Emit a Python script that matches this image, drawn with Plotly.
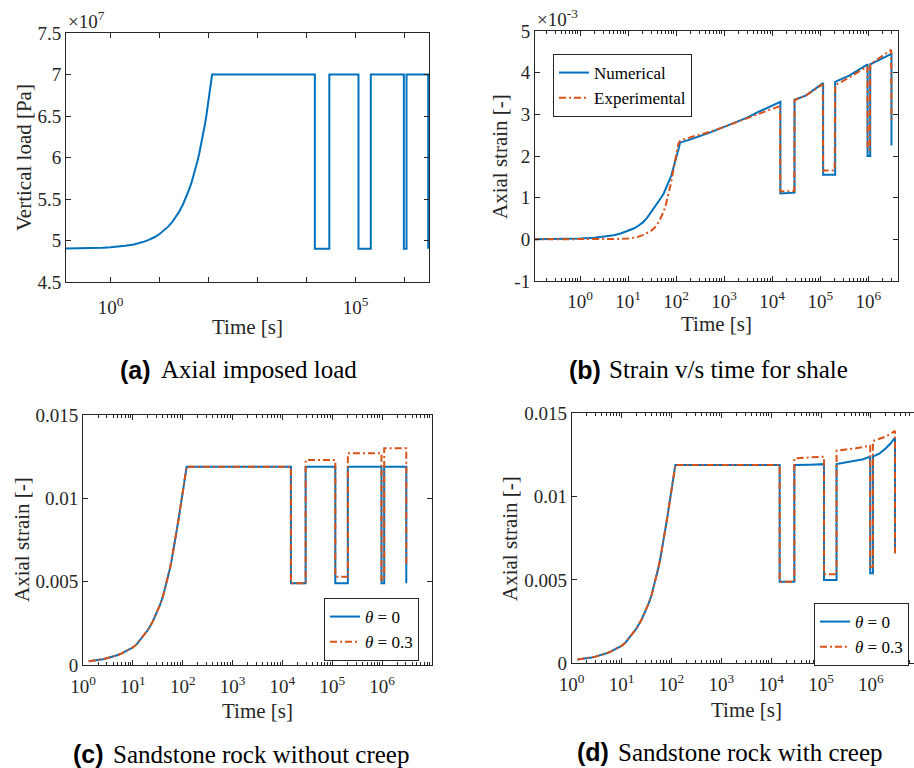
import plotly.graph_objects as go

W, H = 914, 768
BLUE = '#0072BD'
ORANGE = '#D95319'
AX = '#262626'
SERIF = 'Liberation Serif'
SANS = 'Liberation Sans'

# ---------------- data ----------------
# (a) axial imposed load [Pa]
load_ramp_t = [0.1, 0.2, 0.3, 0.5, 0.7, 1, 1.5, 2, 3, 4, 5, 6, 7, 8, 10, 12, 15, 18, 20, 25,
               30, 35, 40, 45, 50, 55, 60, 65, 70, 75, 80, 85, 90, 95, 100, 105, 110, 115, 118]
load_ramp_pa = [4.902e7, 4.904e7, 4.905e7, 4.909e7, 4.912e7, 4.918e7, 4.927e7, 4.936e7,
                4.953e7, 4.971e7, 4.989e7, 5.007e7, 5.025e7, 5.042e7, 5.078e7, 5.114e7,
                5.167e7, 5.220e7, 5.256e7, 5.345e7, 5.434e7, 5.523e7, 5.612e7, 5.700e7,
                5.790e7, 5.880e7, 5.968e7, 6.057e7, 6.146e7, 6.235e7, 6.324e7, 6.410e7,
                6.500e7, 6.590e7, 6.680e7, 6.770e7, 6.860e7, 6.950e7, 7.000e7]
load_step_t = [1.48e4, 1.48e4, 2.92e4, 2.92e4, 1.15e5, 1.15e5, 2.05e5, 2.05e5,
               9.7e5, 9.7e5, 1.1e6, 1.1e6, 3.05e6, 3.05e6]
load_step_pa = [7.00e7, 4.90e7, 4.90e7, 7.00e7, 7.00e7, 4.90e7, 4.90e7, 7.00e7,
                7.00e7, 4.90e7, 4.90e7, 7.00e7, 7.00e7, 4.90e7]

# (b) shale strain
num_t = [0.1, 0.3, 1, 2, 3, 5, 7, 10, 13, 16, 20, 25, 30, 35, 40, 45, 50, 55, 60, 65, 70,
         75, 80, 85, 90, 95, 100, 105, 110, 115, 120,
         200, 500, 1000, 3000, 5000, 1.48e4, 1.48e4, 2.92e4, 2.92e4, 5e4, 1.15e5,
         1.15e5, 2.05e5, 2.05e5, 4e5, 9.7e5, 9.7e5, 1.1e6, 1.1e6, 2e6, 3.05e6, 3.05e6]
num_eps = [0.002e-3, 0.006e-3, 0.02e-3, 0.04e-3, 0.06e-3, 0.10e-3, 0.14e-3, 0.20e-3,
           0.26e-3, 0.32e-3, 0.40e-3, 0.52e-3, 0.65e-3, 0.74e-3, 0.83e-3, 0.92e-3, 1.02e-3,
           1.10e-3, 1.19e-3, 1.28e-3, 1.38e-3, 1.46e-3, 1.55e-3, 1.65e-3, 1.74e-3, 1.84e-3,
           1.94e-3, 2.04e-3, 2.13e-3, 2.22e-3, 2.32e-3,
           2.40e-3, 2.56e-3, 2.70e-3, 2.92e-3, 3.05e-3, 3.30e-3, 1.10e-3, 1.12e-3,
           3.35e-3, 3.45e-3, 3.75e-3, 1.55e-3, 1.55e-3, 3.78e-3, 3.93e-3, 4.20e-3, 2.00e-3,
           2.00e-3, 4.20e-3, 4.35e-3, 4.45e-3, 2.25e-3]
exp_t = [0.1, 1, 3, 5, 7, 10, 15, 20, 25, 30, 35, 40, 45, 50, 55, 60, 65, 70, 75, 80, 85,
         90, 95, 100, 105, 110, 118, 130, 200, 500, 1000,
         3000, 1.46e4, 1.48e4, 2.88e4, 2.92e4, 5e4, 1.13e5, 1.15e5, 2.0e5, 2.05e5, 4e5,
         9.6e5, 9.7e5, 1.08e6, 1.1e6, 2e6, 3.0e6, 3.05e6]
exp_eps = [0.0, 0.0, 0.0, 0.005e-3, 0.01e-3, 0.02e-3, 0.05e-3, 0.10e-3, 0.15e-3, 0.20e-3,
           0.27e-3, 0.35e-3, 0.45e-3, 0.55e-3, 0.67e-3, 0.80e-3, 0.95e-3, 1.10e-3, 1.26e-3,
           1.42e-3, 1.58e-3, 1.75e-3, 1.92e-3, 2.08e-3, 2.20e-3, 2.28e-3, 2.35e-3, 2.38e-3,
           2.45e-3, 2.58e-3, 2.70e-3,
           2.90e-3, 3.20e-3, 1.15e-3, 1.16e-3, 3.34e-3, 3.45e-3, 3.72e-3, 1.65e-3, 1.65e-3,
           3.70e-3, 3.88e-3, 4.15e-3, 2.15e-3, 2.15e-3, 4.20e-3, 4.40e-3, 4.55e-3, 2.86e-3]

# (c), (d) sandstone: common loading ramp
cd_ramp_t = [1.3, 1.6, 2, 2.5, 3, 4, 5, 6, 7, 8, 10, 12, 15, 18, 20, 25, 30, 35, 40, 45,
             50, 55, 60, 65, 70, 75, 80, 85, 90, 95, 100, 105, 110, 115, 120]
cd_ramp_eps = [0.00023, 0.00026, 0.0003, 0.00035, 0.0004, 0.0005, 0.0006, 0.0007, 0.0008,
               0.0009, 0.00105, 0.00125, 0.0016, 0.0019, 0.0021, 0.0026, 0.0031, 0.0036,
               0.0041, 0.00465, 0.0052, 0.00575, 0.0063, 0.00685, 0.0074, 0.00795, 0.0085,
               0.0090, 0.0095, 0.0100, 0.0105, 0.0109, 0.0113, 0.0116, 0.0119]

# (c) without creep: step part
c_step_t = [1.48e4, 1.48e4, 2.92e4, 2.92e4, 1.15e5, 1.15e5, 2.05e5, 2.05e5,
            9.7e5, 9.7e5, 1.1e6, 1.1e6, 3.05e6, 3.05e6]
c_th0 = [0.0119, 0.0049, 0.0049, 0.0119, 0.0119, 0.0049, 0.0049, 0.0119,
         0.0119, 0.0049, 0.0049, 0.0119, 0.0119, 0.0049]
c_th03 = [0.0119, 0.0049, 0.0049, 0.0123, 0.0123, 0.0053, 0.0053, 0.0127,
          0.0127, 0.0051, 0.0051, 0.0130, 0.0130, 0.0060]

# (d) with creep: step part
d0_step_t = [1.48e4, 1.48e4, 2.92e4, 2.92e4, 6e4, 1.15e5, 1.15e5, 2.05e5, 2.05e5, 4e5, 7e5,
             9.7e5, 9.7e5, 1.1e6, 1.1e6, 1.5e6, 2e6, 2.5e6, 3.05e6, 3.05e6]
d_th0 = [0.0119, 0.0049, 0.0049, 0.0119, 0.01192, 0.01195, 0.0050, 0.0050, 0.01196, 0.0121,
         0.01224, 0.0124, 0.0054, 0.0054, 0.0124, 0.0126, 0.0129, 0.0132, 0.01355, 0.0066]
d3_step_t = [1.48e4, 1.48e4, 2.92e4, 2.92e4, 6e4, 1.15e5, 1.15e5, 2.05e5, 2.05e5, 5e5,
             9.7e5, 9.7e5, 1.1e6, 1.1e6, 2e6, 3.05e6, 3.05e6]
d_th03 = [0.0119, 0.0049, 0.0049, 0.0123, 0.01235, 0.0124, 0.00534, 0.00534, 0.01276, 0.0129,
          0.01306, 0.0058, 0.0058, 0.01334, 0.0136, 0.01394, 0.0066]

decade_vals = [1, 10, 100, 1e3, 1e4, 1e5, 1e6]
decade_text = ['10<sup>%d</sup>' % k for k in range(7)]
a_xtext = ['10<sup>0</sup>', '', '', '', '', '10<sup>5</sup>', '']
a_yvals = [4.5e7, 5e7, 5.5e7, 6e7, 6.5e7, 7e7, 7.5e7]
a_ytext = ['4.5', '5', '5.5', '6', '6.5', '7', '7.5']
b_yvals = [-1e-3, 0, 1e-3, 2e-3, 3e-3, 4e-3, 5e-3]
b_ytext = ['-1', '0', '1', '2', '3', '4', '5']
cd_yvals = [0, 0.005, 0.01, 0.015]
cd_ytext = ['0', '0.005', '0.01', '0.015']
minor_vals = [m * 10.0 ** k for k in range(-1, 7) for m in range(2, 10)]

DASHDOT = '7px,3px,2px,3px'


def fx(p):
    return p / W


def fy(p):
    return 1 - p / H


fig = go.Figure()

fig.add_trace(go.Scatter(x=load_ramp_t + load_step_t, y=load_ramp_pa + load_step_pa,
                         mode='lines', line=dict(color=BLUE, width=2),
                         xaxis='x', yaxis='y', showlegend=False))
fig.add_trace(go.Scatter(x=num_t, y=num_eps, mode='lines', name='Numerical',
                         line=dict(color=BLUE, width=2), xaxis='x2', yaxis='y2', legend='legend'))
fig.add_trace(go.Scatter(x=exp_t, y=exp_eps, mode='lines', name='Experimental',
                         line=dict(color=ORANGE, width=2, dash=DASHDOT), xaxis='x2', yaxis='y2',
                         legend='legend'))
fig.add_trace(go.Scatter(x=cd_ramp_t + c_step_t, y=cd_ramp_eps + c_th0, mode='lines',
                         name='<i>θ</i> = 0', line=dict(color=BLUE, width=2),
                         xaxis='x3', yaxis='y3', legend='legend2'))
fig.add_trace(go.Scatter(x=cd_ramp_t + c_step_t, y=cd_ramp_eps + c_th03, mode='lines',
                         name='<i>θ</i> = 0.3', line=dict(color=ORANGE, width=2, dash=DASHDOT),
                         xaxis='x3', yaxis='y3', legend='legend2'))
fig.add_trace(go.Scatter(x=cd_ramp_t + d0_step_t, y=cd_ramp_eps + d_th0, mode='lines',
                         name='<i>θ</i> = 0', line=dict(color=BLUE, width=2),
                         xaxis='x4', yaxis='y4', legend='legend3'))
fig.add_trace(go.Scatter(x=cd_ramp_t + d3_step_t, y=cd_ramp_eps + d_th03, mode='lines',
                         name='<i>θ</i> = 0.3', line=dict(color=ORANGE, width=2, dash=DASHDOT),
                         xaxis='x4', yaxis='y4', legend='legend3'))

tickfont = dict(family=SERIF, size=19, color=AX)
base = dict(showline=True, linecolor=AX, linewidth=1, mirror='ticks', ticks='inside',
            ticklen=5, tickwidth=1, tickcolor=AX, showgrid=False, zeroline=False,
            tickfont=tickfont, tickmode='array')
minor = dict(ticks='inside', ticklen=3, tickwidth=1, tickcolor=AX, tickmode='array',
             tickvals=minor_vals, showgrid=False)

legend_style = dict(bgcolor='white', bordercolor=AX, borderwidth=1,
                    font=dict(family=SERIF, size=17, color='black'),
                    xanchor='left', yanchor='top', tracegroupgap=0)

fig.update_layout(
    width=W, height=H, plot_bgcolor='white', paper_bgcolor='white',
    margin=dict(l=0, r=0, t=0, b=0, autoexpand=False),
    xaxis=dict(base, type='log', domain=[fx(66), fx(429)], range=[-0.91, 6.5],
               tickvals=decade_vals, ticktext=a_xtext, anchor='y', ticklabelstandoff=8),
    yaxis=dict(base, domain=[fy(282), fy(33)], range=[4.5e7, 7.5e7],
               tickvals=a_yvals, ticktext=a_ytext, anchor='x'),
    xaxis2=dict(base, type='log', domain=[fx(535), fx(898)], range=[-0.94, 6.62],
                tickvals=decade_vals, ticktext=decade_text, anchor='y2', minor=minor,
                ticklabelstandoff=3),
    yaxis2=dict(base, domain=[fy(281), fy(31)], range=[-1e-3, 5e-3],
                tickvals=b_yvals, ticktext=b_ytext, anchor='x2'),
    xaxis3=dict(base, type='log', domain=[fx(83), fx(432)], range=[0, 7],
                tickvals=decade_vals, ticktext=decade_text, anchor='y3', minor=minor,
                ticklabelstandoff=4),
    yaxis3=dict(base, domain=[fy(665), fy(415)], range=[0, 0.015],
                tickvals=cd_yvals, ticktext=cd_ytext, anchor='x3'),
    xaxis4=dict(base, type='log', domain=[fx(571.7), 1.0], range=[0, 6.865],
                tickvals=decade_vals, ticktext=decade_text, anchor='y4', minor=minor,
                ticklabelstandoff=4),
    yaxis4=dict(base, domain=[fy(663.3), fy(413.3)], range=[0, 0.015], mirror=False,
                tickvals=cd_yvals, ticktext=cd_ytext, anchor='x4'),
    legend=dict(legend_style, x=fx(553), y=fy(54)),
    legend2=dict(legend_style, x=fx(324), y=fy(598)),
    legend3=dict(legend_style, x=fx(814), y=fy(603)),
)


def ann(text, x, y, size=21, angle=0, xanchor='center', yanchor='middle', family=SERIF,
        color=AX):
    fig.add_annotation(text=text, x=fx(x), y=fy(y), xref='paper', yref='paper',
                       showarrow=False, textangle=angle, xanchor=xanchor, yanchor=yanchor,
                       font=dict(family=family, size=size, color=color), borderpad=0)


# axis titles
ann('Vertical load [Pa]', 24, 158, angle=-90)
ann('Time [s]', 247.5, 327)
ann('Axial strain [-]', 500, 156, angle=-90)
ann('Time [s]', 716.5, 324)
ann('Axial strain [-]', 22, 540, angle=-90)
ann('Time [s]', 257.5, 711)
ann('Axial strain [-]', 510, 539, angle=-90)
ann('Time [s]', 746, 710)
# exponent labels
ann('×10<sup>7</sup>', 67, 33, size=19, xanchor='left', yanchor='bottom')
ann('×10<sup>-3</sup>', 536, 31, size=19, xanchor='left', yanchor='bottom')

# captions: bold sans label + serif text
captions = [('(a)', 'Axial imposed load', 152, 160, 370),
            ('(b)', 'Strain v/s time for shale', 602, 608, 370),
            ('(c)', 'Sandstone rock without creep', 105, 112, 754),
            ('(d)', 'Sandstone rock with creep', 610, 617, 752)]
for lab, txt, xr, xl, yc in captions:
    ann('<b>%s</b>' % lab, xr, yc, size=25, xanchor='right', family=SANS, color='black')
    ann(txt, xl, yc, size=25, xanchor='left', family=SERIF, color='black')

fig.write_html('out.html', post_script="document.body.style.margin='0px';",
               config={'displayModeBar': False})
